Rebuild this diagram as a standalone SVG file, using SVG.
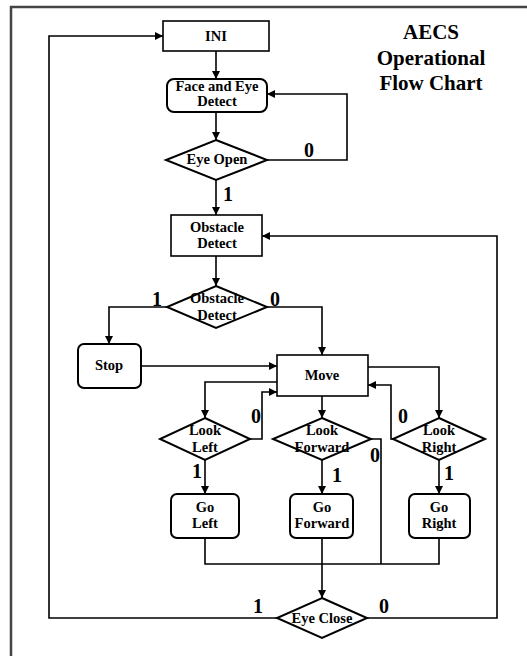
<svg xmlns="http://www.w3.org/2000/svg" width="527" height="656" viewBox="0 0 527 656">
<defs>
<marker id="ah" viewBox="0 0 10 10" refX="10" refY="5" markerWidth="8" markerHeight="8" markerUnits="userSpaceOnUse" orient="auto">
<path d="M0,0 L10,5 L0,10 z" fill="#000"/>
</marker>
<style>
.box{fill:#fff;stroke:#000;stroke-width:1.6}
.rbox{fill:#fff;stroke:#000;stroke-width:2}
.dia{fill:#fff;stroke:#000;stroke-width:2}
.t{font-family:"Liberation Serif","Times New Roman",serif;font-weight:bold;font-size:14.5px;text-anchor:middle;fill:#000}
.n{font-family:"Liberation Serif","Times New Roman",serif;font-weight:bold;font-size:20px;text-anchor:middle;fill:#000}
.title{font-family:"Liberation Serif","Times New Roman",serif;font-weight:bold;font-size:21px;text-anchor:middle;fill:#000}
.c{fill:none;stroke:#000;stroke-width:1.6}
.ca{fill:none;stroke:#000;stroke-width:1.6;marker-end:url(#ah)}
</style>
</defs>
<rect width="527" height="656" fill="#fff"/>
<g id="frame"><path d="M11,656 V7 H527" fill="none" stroke="#444" stroke-width="2.5"/></g>
<g id="title">
<text class="title" x="431" y="39">AECS</text>
<text class="title" x="431" y="65">Operational</text>
<text class="title" x="431" y="90">Flow Chart</text>
</g>
<g id="connectors">
<path class="ca" d="M216,51 V79"/>
<path class="ca" d="M216,112 V140"/>
<path class="ca" d="M267,160 H347 V94 H267"/>
<path class="ca" d="M216,180 V215"/>
<path class="ca" d="M216,256 V286"/>
<path class="ca" d="M167,307 H109 V344"/>
<path class="ca" d="M267,307 H322 V355"/>
<path class="ca" d="M141,366 H277"/>
<path class="ca" d="M277,382 H205 V418"/>
<path class="ca" d="M250,439 H262 V392 H277"/>
<path class="ca" d="M205,460 V494"/>
<path class="ca" d="M322,396 V418"/>
<path class="ca" d="M322,460 V494"/>
<path class="c" d="M371,439 H381 V564"/>
<path class="ca" d="M368,367 H439 V418"/>
<path class="ca" d="M393,439 H391 V385 H368"/>
<path class="ca" d="M439,460 V494"/>
<path class="c" d="M205,538 V564 H439 V538"/>
<path class="ca" d="M322,538 V598"/>
<path class="ca" d="M277,618 H49 V36 H163"/>
<path class="ca" d="M367,618 H497 V236 H262"/>
</g>
<g id="ini"><rect class="box" x="163" y="21" width="106" height="30"/><text class="t" x="216" y="41">INI</text></g>
<g id="faceEye"><rect class="rbox" x="167" y="79" width="100" height="33" rx="7"/><text class="t" x="217" y="91">Face and Eye</text><text class="t" x="217" y="106">Detect</text></g>
<g id="eyeOpen"><polygon class="dia" points="216,140 267,160 216,180 166,160"/><text class="t" x="217" y="164">Eye Open</text></g>
<g id="obstacleBox"><rect class="box" x="171" y="215" width="91" height="41"/><text class="t" x="217" y="232">Obstacle</text><text class="t" x="217" y="248">Detect</text></g>
<g id="obstacleDia"><polygon class="dia" points="216,286 267,307 216,328 167,307"/><text class="t" x="217" y="303">Obstacle</text><text class="t" x="217" y="320">Detect</text></g>
<g id="stop"><rect class="rbox" x="78" y="344" width="63" height="44" rx="6"/><text class="t" x="109" y="370">Stop</text></g>
<g id="move"><rect class="box" x="277" y="355" width="91" height="41"/><text class="t" x="322" y="380">Move</text></g>
<g id="lookLeft"><polygon class="dia" points="205,418 250,439 205,460 160,439"/><text class="t" x="205" y="435">Look</text><text class="t" x="205" y="452">Left</text></g>
<g id="lookForward"><polygon class="dia" points="322,418 371,439 322,460 273,439"/><text class="t" x="322" y="435">Look</text><text class="t" x="322" y="452">Forward</text></g>
<g id="lookRight"><polygon class="dia" points="439,418 485,439 439,460 393,439"/><text class="t" x="439" y="435">Look</text><text class="t" x="439" y="452">Right</text></g>
<g id="goLeft"><rect class="rbox" x="171" y="494" width="68" height="44" rx="6"/><text class="t" x="205" y="512">Go</text><text class="t" x="205" y="528">Left</text></g>
<g id="goForward"><rect class="rbox" x="290" y="494" width="63" height="44" rx="6"/><text class="t" x="322" y="512">Go</text><text class="t" x="322" y="528">Forward</text></g>
<g id="goRight"><rect class="rbox" x="409" y="494" width="61" height="44" rx="6"/><text class="t" x="439" y="512">Go</text><text class="t" x="439" y="528">Right</text></g>
<g id="eyeClose"><polygon class="dia" points="322,598 367,618 322,638 277,618"/><text class="t" x="322" y="623">Eye Close</text></g>
<g id="labels">
<text class="n" x="309" y="157">0</text>
<text class="n" x="228" y="201">1</text>
<text class="n" x="157" y="306">1</text>
<text class="n" x="275" y="306">0</text>
<text class="n" x="256" y="423">0</text>
<text class="n" x="197" y="478">1</text>
<text class="n" x="375" y="462">0</text>
<text class="n" x="337" y="482">1</text>
<text class="n" x="403" y="423">0</text>
<text class="n" x="449" y="480">1</text>
<text class="n" x="258" y="613">1</text>
<text class="n" x="384" y="613">0</text>
</g>
</svg>
